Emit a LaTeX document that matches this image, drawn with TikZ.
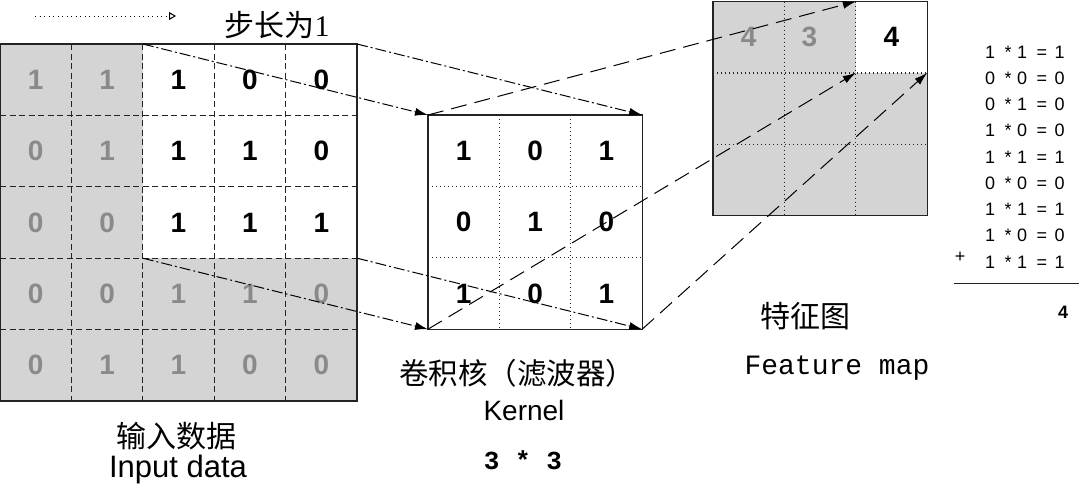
\documentclass[tikz,border=0pt]{standalone}
\usepackage{fontspec}
\setmainfont{Liberation Serif}
\setsansfont{Liberation Sans}
\setmonofont{Liberation Mono}
\newfontfamily\cjk{Noto Sans CJK SC}
\usetikzlibrary{positioning}
\usetikzlibrary{arrows.meta}
\definecolor{cellgray}{RGB}{212,212,212}
\definecolor{numgray}{RGB}{138,138,138}
\definecolor{inkline}{RGB}{35,35,35}

\begin{document}
\begin{tikzpicture}[x=1pt,y=-1pt,
	board/.style={rectangle,inner sep=0pt,outer sep=0pt,minimum size=#1},
	frame/.style={draw=inkline,line width=1.4pt},
	digit/.style={font=\fontsize{28}{28}\selectfont\sffamily\bfseries},
	cutline/.style={draw=inkline,line width=1.2pt,dash pattern=on 6pt off 3.5pt},
	dotline/.style={draw=inkline,line width=1.2pt,dash pattern=on 1.3pt off 2.7pt},
	slidearrow/.style={-{Latex[length=13pt,width=8pt]},line width=1pt,dash pattern=on 11pt off 3pt on 2pt off 3pt},
	maparrow/.style={-{Latex[length=13pt,width=8pt]},line width=1pt,dash pattern=on 16pt off 8pt},
	cnlabel/.style={font=\fontsize{28}{28}\selectfont\cjk},
	calcrow/.style={font=\fontsize{18}{18}\selectfont\sffamily}
	]
	\useasboundingbox (0,0) rectangle (1080,488);

	% input data
	\node [board=357pt,fill=cellgray] (input) at (178.5,222.6) {};
	\node [board=214.2pt,fill=white] (window) at (249.9,151.1) {};
	\foreach \k in {1,...,4} {
		\draw [cutline] (\k*71.4,44) -- (\k*71.4,401.2);
		\draw [cutline] (0,44+\k*71.4) -- (357,44+\k*71.4);
	}
	\draw [frame] (input.north west) rectangle (input.south east);
	\foreach \r/\vals in {0/{1,1,1,0,0},1/{0,1,1,1,0},2/{0,0,1,1,1},3/{0,0,1,1,0},4/{0,1,1,0,0}} {
		\foreach \v [count=\k from 0] in \vals {
			\ifnum\r<3 \ifnum\k>1 \def\numcol{black}\else\def\numcol{numgray}\fi\else\def\numcol{numgray}\fi
			\node [digit,text=\numcol] at (35.7+\k*71.4,79.7+\r*71.4) {\v};
		}
	}

	% kernel
	\node [board=214.2pt,frame] (kernel) at (535.1,222.1) {};
	\foreach \k in {1,2} {
		\draw [dotline] (428+\k*71.4,115) -- (428+\k*71.4,329.2);
		\draw [dotline] (428,115+\k*71.4) -- (642.2,115+\k*71.4);
	}
	\foreach \r/\vals in {0/{1,0,1},1/{0,1,0},2/{1,0,1}} {
		\foreach \v [count=\k from 0] in \vals
			\node [digit] at (463.7+\k*71.4,150.7+\r*71.4) {\v};
	}

	% feature map
	\node [board=214.2pt,fill=cellgray] (fmap) at (820.1,108.6) {};
	\node [board=71.4pt,fill=white] (hit) at (891.5,37.2) {};
	\foreach \k in {1,2} {
		\draw [dotline] (713+\k*71.4,1.5) -- (713+\k*71.4,215.7);
		\draw [dotline] (713,1.5+\k*71.4) -- (927.2,1.5+\k*71.4);
	}
	\draw [frame] (fmap.north west) rectangle (fmap.south east);
	\node [digit,text=numgray] (out1) at (748.7,37.2) {4};
	\node [digit,text=numgray] (out2) [right=0pt of out1,xshift=38pt] {3};
	\node [digit] (out3) at (hit) {4};

	% stride legend
	\coordinate (legstart) at (35,16);
	\coordinate (legend) at (176,16);
	\draw [-{Triangle[open,length=7pt,width=8pt]},line width=1pt,dash pattern=on 1.3pt off 3.2pt] (legstart) -- (legend);
	\node [font=\fontsize{30}{30}\selectfont] (stride) at (277,25) {{\cjk 步长为}1};

	% labels
	\node [cnlabel,font=\fontsize{30}{30}\selectfont\cjk] (incn) at (176,436) {输入数据};
	\node [font=\fontsize{31}{31}\selectfont\sffamily] (inen) at (178,469) {Input data};
	\node [cnlabel,font=\fontsize{29.5}{29.5}\selectfont\cjk] (kerncn) at (517,373) {卷积核（滤波器）};
	\node [font=\fontsize{28}{28}\selectfont\sffamily] (kernen) at (524,410) {Kernel};
	\node [font=\fontsize{26}{26}\selectfont\ttfamily\bfseries] (kernsize) at (523,460) {3 * 3};
	\node [cnlabel,font=\fontsize{30}{30}\selectfont\cjk] (fmapcn) at (805,316) {特征图};
	\node [font=\fontsize{28}{28}\selectfont\ttfamily] (fmapen) at (837,368) {Feature map};

	% sum of products
	\foreach \xa/\xb/\xc [count=\i from 0] in {1/1/1,0/0/0,0/1/0,1/0/0,1/1/1,0/0/0,1/1/1,1/0/0,1/1/1}
		\node [calcrow] (row\i) at (1025,52+\i*26.25) {\xa\hspace{9.5pt}*\hspace{5.5pt}\xb\hspace{9.5pt}=\hspace{7.5pt}\xc};
	\node [calcrow] (plus) at (960,257) {+};
	\draw [line width=1pt,inkline] (954,283) -- (1079,283);
	\node [calcrow,font=\fontsize{18}{18}\selectfont\sffamily\bfseries] (sum) at (1063,312) {4};

	% sliding window
	\draw [slidearrow] (window.north west) to (kernel.north west);
	\draw [slidearrow] (window.north east) to (kernel.north east);
	\draw [slidearrow] (window.south west) to (kernel.south west);
	\draw [slidearrow] (window.south east) to (kernel.south east);
	\draw [maparrow] (kernel.north west) to (hit.north west);
	\draw [maparrow] (kernel.south west) to (hit.south west);
	\draw [maparrow] (kernel.south east) to (hit.south east);

\end{tikzpicture}
\end{document}
